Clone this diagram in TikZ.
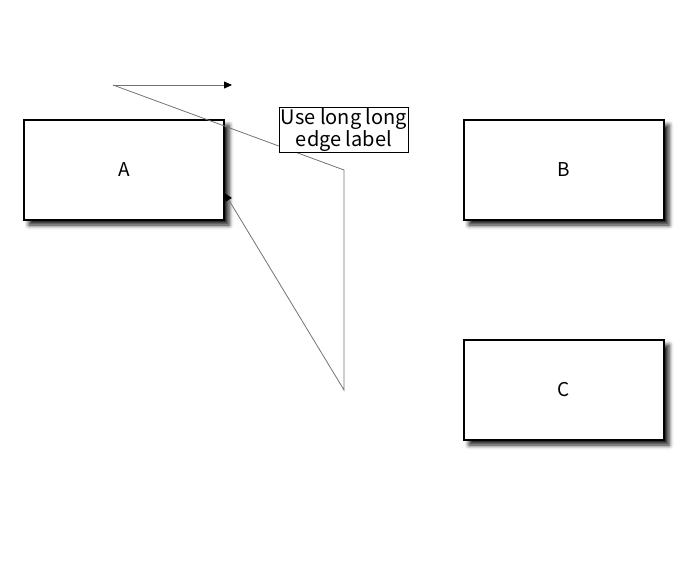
\documentclass[tikz,border=0pt]{standalone}
\usepackage{fontspec}
\newfontfamily\gothic{Noto Sans CJK JP}
\usetikzlibrary{arrows.meta,positioning,shadows,shadows.blur}

\begin{document}
\begin{tikzpicture}[x=1pt,y=-1pt,
	box/.style={shape=rectangle,draw,line width=1.2pt,fill=white,minimum width=200pt,minimum height=100pt,
		blur shadow={shadow xshift=5pt,shadow yshift=-5pt,shadow blur radius=4.5pt,shadow opacity=90},font=\gothic\fontsize{19}{20}\selectfont},
	edge/.style={draw=black!55,line width=0.8pt},
	tipped/.style={-{Triangle[black,length=8pt,width=7pt]}},
	lbl/.style={shape=rectangle,draw,line width=0.8pt,fill=white,inner sep=1pt,align=center,font=\gothic\fontsize{20}{20}\selectfont}]
	\useasboundingbox (0,0) rectangle (688,560);
	\path (124,170) node (A) [box] {A}
		  (564,170) node (B) [box] {B}
		  (564,390) node (C) [box] {C};
	\coordinate (start) at (113,85);
	\coordinate (tip) at (232,85);
	\coordinate (bend1) at (344,170);
	\coordinate (bend2) at (344,390);
	\draw[edge,tipped] (start) -- (tip);
	\draw[edge,tipped] (start) -- (bend1) -- (bend2) -- ([yshift=-23pt]A.east);
	\node (label) at (344,130) [lbl] {Use long long\\edge label};
\end{tikzpicture}
\end{document}
